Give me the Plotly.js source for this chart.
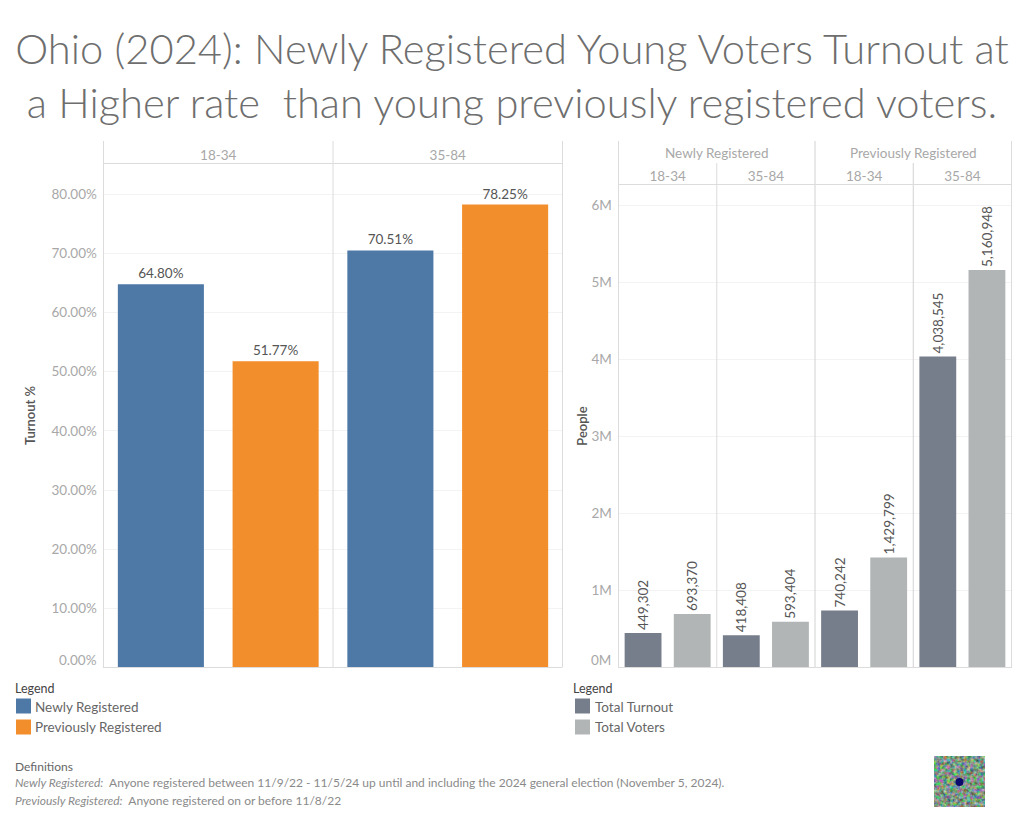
<!DOCTYPE html>
<html>
<head>
<meta charset="utf-8">
<script src="https://cdn.plot.ly/plotly-3.0.1.min.js"></script>
<style>html,body{margin:0;padding:0;background:#fff}#chart{width:1024px;height:819px}</style>
</head>
<body>
<div id="chart"></div>
<script>
const ageGroups = ['18-34', '35-84'];
const newlyRegisteredRate = [64.80, 70.51];
const previouslyRegisteredRate = [51.77, 78.25];
const rateTicks = [10, 20, 30, 40, 50, 60, 70, 80];
const rateTickLabels = ['10.00%', '20.00%', '30.00%', '40.00%', '50.00%', '60.00%', '70.00%', '80.00%'];

const peopleCategories = ['Newly 18-34', 'Newly 35-84', 'Previously 18-34', 'Previously 35-84'];
const peopleCategoryLabels = ['18-34', '35-84', '18-34', '35-84'];
const totalTurnout = [449302, 418408, 740242, 4038545];
const totalVoters = [693370, 593404, 1429799, 5160948];
const peopleTicks = [1000000, 2000000, 3000000, 4000000, 5000000, 6000000];
const peopleTickLabels = ['1M', '2M', '3M', '4M', '5M', '6M'];

const COLORS = {newly: '#4e79a7', previously: '#f28e2b', turnout: '#767d8b', voters: '#b1b5b6'};
const FONT = 'Lato, "Open Sans", sans-serif';
const W = 1024, H = 819;
const px = v => v / W, py = v => 1 - v / H;
const LINE = '#dcdcdc', TICK = '#a8a8a8', GRID = '#f3f3f3', LABEL = '#555555';

const barCommon = {type: 'bar', textposition: 'outside', cliponaxis: false, constraintext: 'none', hoverinfo: 'skip', showlegend: false};
const labelFont = {size: 13.5, color: LABEL, family: FONT};
const traces = [
  Object.assign({}, barCommon, {name: 'Newly Registered', x: ageGroups, y: newlyRegisteredRate, marker: {color: COLORS.newly},
    texttemplate: '%{y:.2f}%', textfont: labelFont, xaxis: 'x', yaxis: 'y'}),
  Object.assign({}, barCommon, {name: 'Previously Registered', x: ageGroups, y: previouslyRegisteredRate, marker: {color: COLORS.previously},
    texttemplate: '%{y:.2f}%', textfont: labelFont, xaxis: 'x', yaxis: 'y'}),
  Object.assign({}, barCommon, {name: 'Total Turnout', x: peopleCategories, y: totalTurnout, marker: {color: COLORS.turnout},
    texttemplate: '%{y:,d}', textangle: -90, textfont: labelFont, xaxis: 'x2', yaxis: 'y2'}),
  Object.assign({}, barCommon, {name: 'Total Voters', x: peopleCategories, y: totalVoters, marker: {color: COLORS.voters},
    texttemplate: '%{y:,d}', textangle: -90, textfont: labelFont, xaxis: 'x2', yaxis: 'y2'})
];

const vLine = (xref, x, top, bottom, color) => ({type: 'line', xref, yref: 'paper', x0: x, x1: x, y0: py(top), y1: py(bottom), line: {color: color || LINE, width: 1}, layer: 'above'});
const hLine = (x0, x1, y) => ({type: 'line', xref: 'paper', yref: 'paper', x0: px(x0), x1: px(x1), y0: py(y), y1: py(y), line: {color: LINE, width: 1}, layer: 'above'});
const swatch = (x, y, color) => ({type: 'rect', xref: 'paper', yref: 'paper', x0: px(x), x1: px(x + 15), y0: py(y - 7.5), y1: py(y + 7.5), fillcolor: color, line: {width: 0}});

const shapes = [
  vLine('paper', px(103.5), 141, 667.5), vLine('x', 0.5, 141, 667.5), vLine('paper', px(562.5), 141, 667.5),
  hLine(103, 562, 163.5), hLine(103, 562, 667.5),
  vLine('paper', px(618.5), 141, 667.5), vLine('x2', 0.5, 163, 667.5), vLine('x2', 1.5, 141, 667.5, '#d2d2d2'), vLine('x2', 2.5, 163, 667.5, '#d2d2d2'), vLine('paper', px(1011.5), 141, 667.5),
  hLine(618, 1012, 184.5), hLine(618, 1012, 667.5),
  swatch(16, 706, COLORS.newly), swatch(16, 727, COLORS.previously),
  swatch(575, 706, COLORS.turnout), swatch(575, 727, COLORS.voters)
];

const note = (text, x, y, size, color) => ({text, xref: 'paper', yref: 'paper', x: px(x), y: py(y), xanchor: 'left', yanchor: 'middle', showarrow: false, font: {family: FONT, size, color}});
const AX = {family: FONT, size: 13.5, color: TICK};

const annotations = [
  {text: '0.00%', xref: 'paper', yref: 'y', x: px(99), y: 0, xanchor: 'right', yanchor: 'middle', yshift: 8, showarrow: false, font: AX},
  {text: '0M', xref: 'paper', yref: 'y2', x: px(613), y: 0, xanchor: 'right', yanchor: 'middle', yshift: 8, showarrow: false, font: AX},
  {text: 'Newly Registered', xref: 'x2', yref: 'paper', x: 0.5, y: py(153), xanchor: 'center', yanchor: 'middle', showarrow: false, font: AX},
  {text: 'Previously Registered', xref: 'x2', yref: 'paper', x: 2.5, y: py(153), xanchor: 'center', yanchor: 'middle', showarrow: false, font: AX},
  note('Legend', 13, 688, 12.5, '#444444'),
  note('Newly Registered', 33, 707, 13.5, '#666666'),
  note('Previously Registered', 33, 727, 13.5, '#666666'),
  note('Legend', 571, 688, 12.5, '#444444'),
  note('Total Turnout', 593, 707, 13.5, '#666666'),
  note('Total Voters', 593, 727, 13.5, '#666666'),
  note('Definitions', 13, 766, 12, '#666666'),
  note('<i>Newly Registered:</i>  Anyone registered between 11/9/22 - 11/5/24 up until and including the 2024 general election (November 5, 2024).', 13, 782, 12, '#8a8a8a'),
  note('<i>Previously Registered:</i>  Anyone registered on or before 11/8/22', 13, 800, 12, '#8a8a8a')
];

const yBase = {showline: false, zeroline: false, gridcolor: GRID, gridwidth: 1, ticks: 'outside', ticklen: 3, tickcolor: 'rgba(0,0,0,0)',
  tickfont: AX, tickmode: 'array', fixedrange: true};
const xBase = {side: 'top', showline: false, showgrid: false, zeroline: false, ticks: '', tickfont: AX, fixedrange: true};
const axisTitleFont = {family: FONT, size: 13, color: '#555555', weight: 600};

// Small textured thumbnail from the lower right corner of the reference.
const thumb = 'data:image/svg+xml,' + encodeURIComponent(
  '<svg xmlns="http://www.w3.org/2000/svg" width="51" height="51" viewBox="0 0 51 51">' +
  '<filter id="n" color-interpolation-filters="sRGB"><feTurbulence type="fractalNoise" baseFrequency="0.3" numOctaves="2" seed="4"/>' +
  '<feColorMatrix values="1.1 0 0 0 -0.06  0 0.9 0 0 0.14  0 0 1.0 0 0.02  0 0 0 0 1"/></filter>' +
  '<rect width="51" height="51" fill="#7f9a84"/><rect width="51" height="51" filter="url(#n)"/>' +
  '<circle cx="25.5" cy="26" r="4" fill="#0b0b6e"/></svg>');

const layout = {
  width: W, height: H, margin: {l: 0, r: 0, t: 0, b: 0}, paper_bgcolor: '#ffffff', plot_bgcolor: '#ffffff',
  font: {family: FONT}, showlegend: false,
  title: {text: 'Ohio (2024): Newly Registered Young Voters Turnout at<br>a Higher rate\u00a0 than young previously registered voters.',
    x: 0.5, xanchor: 'center', y: 1 - 64 / H, yanchor: 'top', font: {family: FONT, size: 41.7, color: '#6e6e6e', weight: 300}},
  barmode: 'group', bargap: 0, bargroupgap: 0.25,
  xaxis: Object.assign({}, xBase, {domain: [px(103.5), px(562.5)], anchor: 'y', type: 'category'}),
  yaxis: Object.assign({}, yBase, {domain: [py(667.5), py(163.5)], anchor: 'x', range: [0, 85.2], tickvals: rateTicks, ticktext: rateTickLabels,
    title: {text: 'Turnout %', standoff: 12, font: axisTitleFont}}),
  xaxis2: Object.assign({}, xBase, {domain: [px(618.5), px(1011.5)], anchor: 'y2', type: 'category', tickmode: 'array', tickvals: peopleCategories, ticktext: peopleCategoryLabels}),
  yaxis2: Object.assign({}, yBase, {domain: [py(667.5), py(184.5)], anchor: 'x2', range: [0, 6272000], tickvals: peopleTicks, ticktext: peopleTickLabels,
    title: {text: 'People', standoff: 0, font: axisTitleFont}}),
  images: [{source: thumb, xref: 'paper', yref: 'paper', x: px(934), y: py(756), sizex: 51 / W, sizey: 51 / H, sizing: 'stretch', xanchor: 'left', yanchor: 'top', layer: 'above'}],
  shapes, annotations
};

Plotly.newPlot('chart', traces, layout, {displayModeBar: false, responsive: false});
</script>
</body>
</html>
